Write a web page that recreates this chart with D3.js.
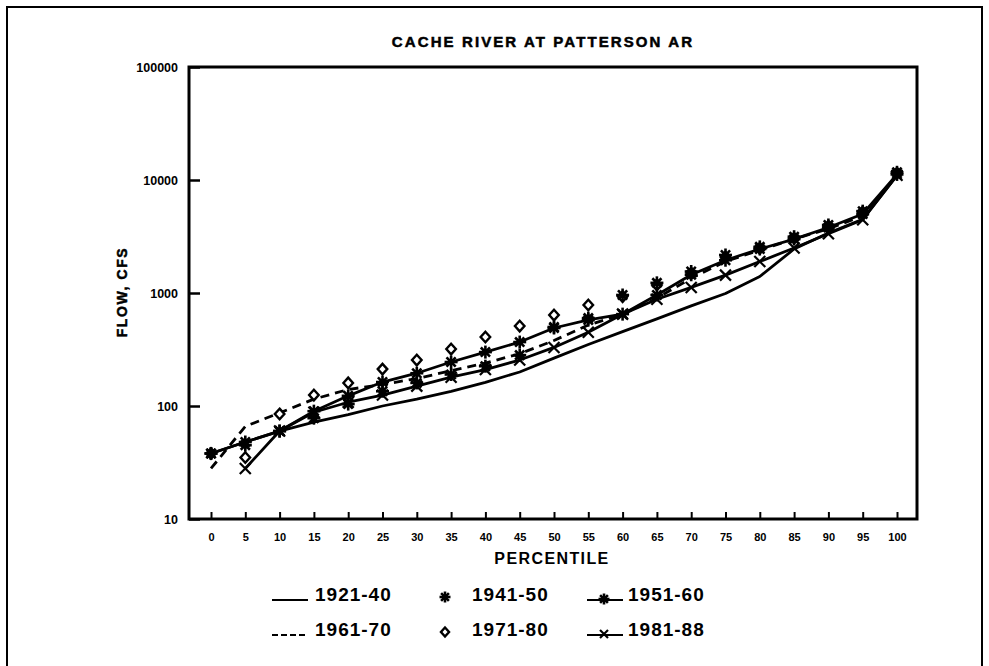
<!DOCTYPE html>
<html>
<head>
<meta charset="utf-8">
<script src="https://cdn.jsdelivr.net/npm/d3@7"></script>
<style>
  html, body { margin: 0; padding: 0; background: #fff; }
  svg { display: block; }
  text { font-family: "Liberation Sans", Arial, sans-serif; font-weight: bold; fill: #000; }
</style>
</head>
<body>
<svg id="chart" width="989" height="666"></svg>
<script>
// Flow-duration values (cfs) at each exceedance percentile, by period of record
const percentiles = [0, 5, 10, 15, 20, 25, 30, 35, 40, 45, 50, 55, 60, 65, 70, 75, 80, 85, 90, 95, 100];
const flow1921_40 = [38, 48, 60, 72, 84, 100, 115, 135, 162, 200, 265, 350, 455, 590, 770, 990, 1400, 2450, 3400, 4500, 11000];
const flow1941_50 = [38, 45, 60, 78, 104, 135, 160, 190, 225, 282, 500, 600, 960, 1230, 1550, 2170, 2560, 3150, 4000, 5300, 11700];
const flow1951_60 = [38, 48, 60, 90, 123, 163, 195, 245, 300, 368, 490, 577, 650, 960, 1450, 1950, 2450, 3000, 3800, 5000, 11200];
const flow1961_70 = [28, 66, 87, 115, 140, 155, 175, 205, 240, 290, 380, 520, 650, 900, 1350, 1900, 2400, 3000, 3700, 4800, 11000];
const flow1971_80 = [38, 35, 85, 125, 160, 212, 255, 319, 408, 510, 638, 783, 930, 1180, 1500, 2080, 2480, 3050, 3900, 5200, 11500];
const flow1981_88 = [null, 28, 60, 88, 108, 125, 150, 180, 210, 255, 330, 450, 650, 880, 1120, 1440, 1900, 2500, 3350, 4450, 11000];

const yTickValues = [10, 100, 1000, 10000, 100000];
const titleText = "CACHE RIVER AT PATTERSON AR";
const xTitle = "PERCENTILE";
const yTitle = "FLOW, CFS";

// Series definitions: line style and point marker
const series = [
  { label: "1921-40", values: flow1921_40, line: "solid",  marker: null },
  { label: "1941-50", values: flow1941_50, line: null,     marker: "asterisk" },
  { label: "1951-60", values: flow1951_60, line: "solid",  marker: "asterisk" },
  { label: "1961-70", values: flow1961_70, line: "dashed", marker: null },
  { label: "1971-80", values: flow1971_80, line: null,     marker: "diamond" },
  { label: "1981-88", values: flow1981_88, line: "solid",  marker: "cross" }
];

const svg = d3.select("#chart");

// Page frame
svg.append("rect")
  .attr("x", 7).attr("y", 7).attr("width", 975).attr("height", 700)
  .attr("fill", "none").attr("stroke", "#000").attr("stroke-width", 2);

const plot = { left: 189, right: 917, top: 67, bottom: 519 };

const x = d3.scaleLinear().domain([0, 100]).range([211, 897]);
const y = d3.scaleLog().domain([10, 100000]).range([plot.bottom, plot.top]);

// Title
svg.append("text")
  .attr("x", 543).attr("y", 47)
  .attr("text-anchor", "middle")
  .attr("font-size", 15).attr("letter-spacing", 2.1)
  .attr("font-weight", "normal")
  .attr("stroke", "#000").attr("stroke-width", 0.5)
  .text(titleText);

// Axes with inward ticks
const xAxis = d3.axisBottom(x)
  .tickValues(percentiles)
  .tickSize(-7)
  .tickPadding(14)
  .tickFormat(d3.format("d"));

const gx = svg.append("g")
  .attr("transform", `translate(0,${plot.bottom})`)
  .call(xAxis);
gx.select(".domain").remove();
gx.selectAll(".tick line").attr("stroke", "#000").attr("stroke-width", 2);
gx.selectAll(".tick text")
  .attr("font-size", 11).attr("font-family", "Liberation Sans, Arial, sans-serif")
  .attr("font-weight", "bold").attr("fill", "#000");

const yAxis = d3.axisLeft(y)
  .tickValues(yTickValues)
  .tickSize(-11)
  .tickPadding(11)
  .tickFormat(d3.format("d"));

const gy = svg.append("g")
  .attr("transform", `translate(${plot.left},0)`)
  .call(yAxis);
gy.select(".domain").remove();
gy.selectAll(".tick line").attr("stroke", "#000").attr("stroke-width", 2.5);
gy.selectAll(".tick text")
  .attr("font-size", 12.5).attr("font-family", "Liberation Sans, Arial, sans-serif")
  .attr("font-weight", "bold").attr("fill", "#000");

// Plot frame
svg.append("rect")
  .attr("x", plot.left).attr("y", plot.top)
  .attr("width", plot.right - plot.left).attr("height", plot.bottom - plot.top)
  .attr("fill", "none").attr("stroke", "#000").attr("stroke-width", 3);

// Axis titles
svg.append("text")
  .attr("x", 552).attr("y", 564)
  .attr("text-anchor", "middle")
  .attr("font-size", 16).attr("letter-spacing", 1.4)
  .text(xTitle);

svg.append("text")
  .attr("transform", "translate(127,292) rotate(-90)")
  .attr("text-anchor", "middle")
  .attr("font-size", 14).attr("letter-spacing", 1.6)
  .attr("font-weight", "normal")
  .attr("stroke", "#000").attr("stroke-width", 0.5)
  .text(yTitle);

// Marker painters
function drawMarker(g, kind, cx, cy, r) {
  if (kind === "asterisk") {
    const m = g.append("g").attr("transform", `translate(${cx},${cy})`);
    [0, 45, 90, 135].forEach(a => {
      const t = a * Math.PI / 180;
      m.append("line")
        .attr("x1", -r * Math.cos(t)).attr("y1", -r * Math.sin(t))
        .attr("x2", r * Math.cos(t)).attr("y2", r * Math.sin(t))
        .attr("stroke", "#000").attr("stroke-width", 2.6);
    });
    m.append("circle").attr("r", r * 0.5).attr("fill", "#000");
  } else if (kind === "diamond") {
    g.append("path")
      .attr("d", `M${cx},${cy - r}L${cx + r * 0.9},${cy}L${cx},${cy + r}L${cx - r * 0.9},${cy}Z`)
      .attr("fill", "#fff").attr("stroke", "#000").attr("stroke-width", 2.4);
  } else if (kind === "cross") {
    const m = g.append("g").attr("transform", `translate(${cx},${cy})`);
    m.append("line").attr("x1", -r).attr("y1", -r).attr("x2", r).attr("y2", r)
      .attr("stroke", "#000").attr("stroke-width", 2.2);
    m.append("line").attr("x1", -r).attr("y1", r).attr("x2", r).attr("y2", -r)
      .attr("stroke", "#000").attr("stroke-width", 2.2);
  }
}

const lineGen = d3.line()
  .defined(d => d.v != null)
  .x(d => x(d.p))
  .y(d => y(d.v));

const marks = svg.append("g");

// Curves first
series.forEach(s => {
  if (!s.line) return;
  const pts = percentiles.map((p, i) => ({ p, v: s.values[i] }));
  marks.append("path")
    .datum(pts)
    .attr("d", lineGen)
    .attr("fill", "none")
    .attr("stroke", "#000")
    .attr("stroke-width", 2.8)
    .attr("stroke-linejoin", "round")
    .attr("stroke-dasharray", s.line === "dashed" ? "9,6" : null);
});

// Point markers: diamonds underneath, crosses and asterisks on top
const markerOrder = ["diamond", "cross", "asterisk"];
markerOrder.forEach(kind => {
  series.filter(s => s.marker === kind).forEach(s => {
    const r = kind === "diamond" ? 5.3 : (kind === "cross" ? 5.5 : 6.5);
    percentiles.forEach((p, i) => {
      const v = s.values[i];
      if (v == null) return;
      drawMarker(marks, kind, x(p), y(v), r);
    });
  });
});

// Legend: two rows of three entries
const legendCols = [272, 432, 587];
const legendRows = [600, 635];
const legend = svg.append("g");
series.forEach((s, i) => {
  const col = i % 3;
  const row = Math.floor(i / 3);
  const lx = legendCols[col];
  const ly = legendRows[row];
  const g = legend.append("g");
  let textX;
  if (s.line && !s.marker) {
    g.append("line")
      .attr("x1", lx).attr("x2", lx + 36).attr("y1", ly).attr("y2", ly)
      .attr("stroke", "#000").attr("stroke-width", 2)
      .attr("stroke-dasharray", s.line === "dashed" ? "6,3" : null);
    textX = lx + 43;
  } else if (s.line && s.marker) {
    g.append("line")
      .attr("x1", lx).attr("x2", lx + 36).attr("y1", ly).attr("y2", ly)
      .attr("stroke", "#000").attr("stroke-width", 2);
    drawMarker(g, s.marker, lx + 17, ly - 1, s.marker === "cross" ? 4 : 5.5);
    textX = lx + 41;
  } else {
    drawMarker(g, s.marker, lx + 13, ly - 3, s.marker === "diamond" ? 4.5 : 5.5);
    textX = lx + 40;
  }
  g.append("text")
    .attr("x", textX).attr("y", ly + 1)
    .attr("font-size", 19).attr("letter-spacing", 1)
    .text(s.label);
});
</script>
</body>
</html>
